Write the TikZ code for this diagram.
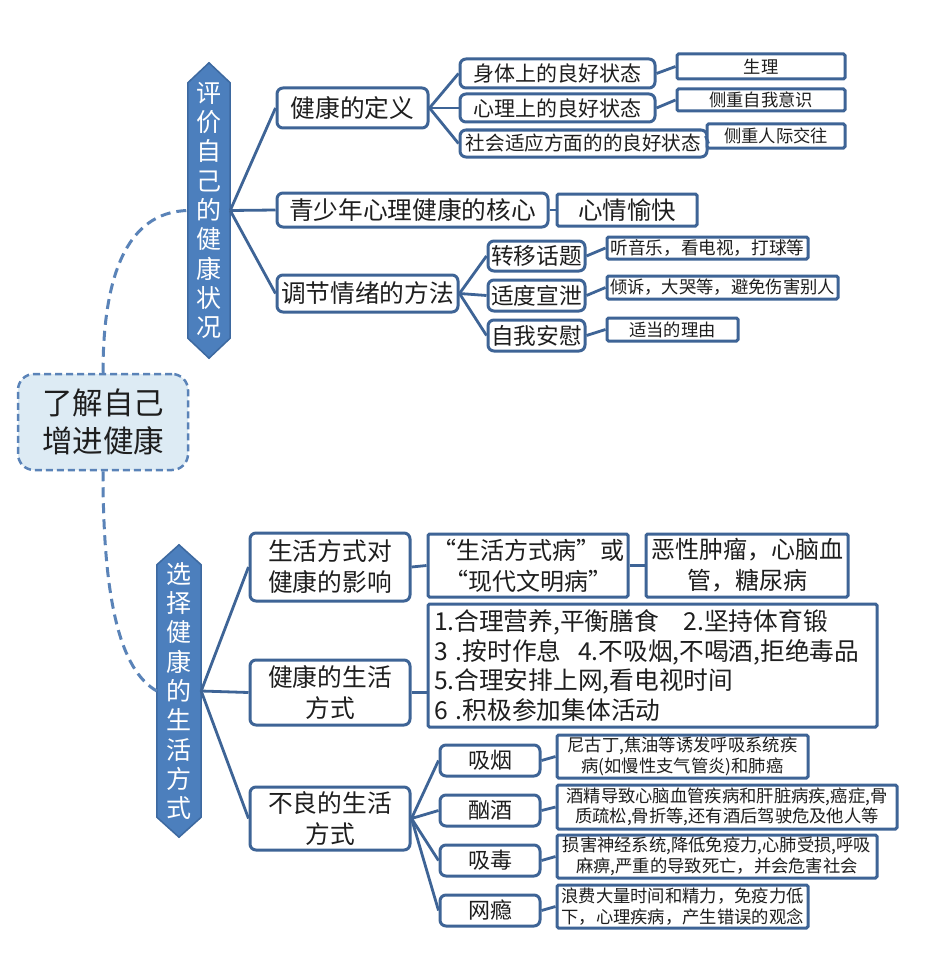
\documentclass[tikz,border=0pt]{standalone}
\usepackage{fontspec}
\setmainfont{Noto Sans CJK SC}
\usetikzlibrary{calc}
\definecolor{ln}{HTML}{3E6496}
\definecolor{hexfill}{HTML}{4C7FBD}
\definecolor{hexline}{HTML}{3D69A0}
\definecolor{rootfill}{HTML}{DDEBF4}
\definecolor{rootline}{HTML}{5A83B8}
\definecolor{txt}{HTML}{1E1E1E}
\newcommand{\myfs}[2]{\fontsize{#1pt}{#2pt}\selectfont}
\begin{document}
\begin{tikzpicture}[x=1pt,y=-1pt,
  base/.style={draw=ln, line width=3pt, fill=white, inner sep=0pt, align=center, text=txt},
  rbox/.style={base, rounded corners=6pt},
  sbox/.style={base, rounded corners=1.5pt},
  sz/.style 2 args={minimum width=#1pt, minimum height=#2pt},
  con/.style={draw=ln, line width=2.8pt},
  dcon/.style={draw=rootline, line width=3pt, dash pattern=on 10pt off 6pt},
  hexbox/.style={inner sep=0pt, minimum width=42pt, minimum height=295pt},
  hextext/.style={inner sep=0pt, align=center, text=white, font=\myfs{25}{29.3}},
]
\fill[white] (0,0) rectangle (945,971);
\useasboundingbox (0,0) rectangle (945,971);

% ---------- root ----------
\node[draw=rootline, fill=rootfill, line width=2.5pt, dash pattern=on 7pt off 4pt,
      rounded corners=16pt, minimum width=170pt, minimum height=96pt, inner sep=0pt,
      align=center, text=txt, font=\myfs{30.5}{38}] (r) at (103,422) {了解自己\\增进健康};

% ---------- hexagon 1 ----------
\node[hexbox] (h1) at (209,210.5) {};
\filldraw[fill=hexfill, draw=hexline, line width=1.5pt]
  (h1.north) -- ($(h1.north east)+(0,20)$) -- ($(h1.south east)+(0,-20)$) -- (h1.south)
  -- ($(h1.south west)+(0,-20)$) -- ($(h1.north west)+(0,20)$) -- cycle;
\node[hextext] (h1t) at (h1.center) {评\\价\\自\\己\\的\\健\\康\\状\\况};

% ---------- hexagon 2 ----------
\node[hexbox, minimum width=44pt, minimum height=292pt] (h2) at (179,691) {};
\filldraw[fill=hexfill, draw=hexline, line width=1.5pt]
  (h2.north) -- ($(h2.north east)+(0,20)$) -- ($(h2.south east)+(0,-20)$) -- (h2.south)
  -- ($(h2.south west)+(0,-20)$) -- ($(h2.north west)+(0,20)$) -- cycle;
\node[hextext] (h2t) at (h2.center) {选\\择\\健\\康\\的\\生\\活\\方\\式};

% dashed links
\draw[dcon] (r.north) .. controls (103,280) and (125,212) .. (h1.west);
\draw[dcon] (r.south) .. controls (103,600) and (120,670) .. (h2.west);

% ---------- upper branch ----------
\node[rbox, sz={151}{40}, font=\myfs{24.7}{31}] (n1) at (352.5,108) {健康的定义};
\node[rbox, sz={195}{29}, font=\myfs{21}{25}] (a1) at (557.5,73.5) {身体上的良好状态};
\node[rbox, sz={195}{28}, font=\myfs{21}{25}] (a2) at (557.5,108) {心理上的良好状态};
\node[rbox, sz={247}{27}, font=\myfs{19.6}{24}] (a3) at (583.5,143.5) {社会适应方面的的良好状态};
\node[sbox, sz={168}{25}, font=\myfs{17.3}{21}] (b1) at (761,66.5) {生理};
\node[sbox, sz={168}{22}, font=\myfs{17.3}{21}] (b2) at (761,100) {侧重自我意识};
\node[sbox, sz={138}{24}, font=\myfs{17.3}{21}] (b3) at (776,136) {侧重人际交往};

\node[rbox, sz={271}{34}, font=\myfs{24.7}{31}] (n2) at (412.5,210) {青少年心理健康的核心};
\node[sbox, sz={140}{32}, font=\myfs{24.5}{31}] (c1) at (627,210) {心情愉快};

\node[rbox, sz={181}{37}, font=\myfs{24.7}{31}] (n3) at (367.5,293.5) {调节情绪的方法};
\node[rbox, sz={97}{30}, font=\myfs{22.7}{28}] (d1) at (536.5,256) {转移话题};
\node[rbox, sz={97}{31}, font=\myfs{22.7}{28}] (d2) at (536.5,295.5) {适度宣泄};
\node[rbox, sz={97}{31}, font=\myfs{22.7}{28}] (d3) at (536.5,335.5) {自我安慰};
\node[sbox, sz={201}{22}, font=\myfs{17.6}{21}] (e1) at (707.5,248) {听音乐，看电视，打球等};
\node[sbox, sz={231}{23}, font=\myfs{17.3}{21}] (e2) at (722.5,287.5) {倾诉，大哭等，避免伤害别人};
\node[sbox, sz={131}{23}, font=\myfs{17.3}{21}] (e3) at (672.5,329.5) {适当的理由};

\draw[con] (h1.east) -- (n1.west);
\draw[con] (h1.east) -- (n2.west);
\draw[con] (h1.east) -- (n3.west);
\draw[con] (n1.east) -- (a1.west);
\draw[con] (n1.east) -- (a2.west);
\draw[con] (n1.east) -- (a3.west);
\draw[con] (a1.east) -- (b1.west);
\draw[con] (a2.east) -- (b2.west);
\draw[con] (a3.east) -- (b3.west);
\draw[con] (n2.east) -- (c1.west);
\draw[con] (n3.east) -- (d1.west);
\draw[con] (n3.east) -- (d2.west);
\draw[con] (n3.east) -- (d3.west);
\draw[con] (d1.east) -- (e1.west);
\draw[con] (d2.east) -- (e2.west);
\draw[con] (d3.east) -- (e3.west);

% ---------- lower branch ----------
\node[rbox, sz={160}{68}, font=\myfs{24.7}{31}] (m1) at (330,567) {生活方式对\\健康的影响};
\node[sbox, sz={200}{63}, font=\myfs{24}{31}] (f1) at (528,565.5) {“生活方式病”或\\“现代文明病”};
\node[sbox, sz={202}{63}, font=\myfs{24}{31}] (g1) at (747,565.5) {恶性肿瘤，心脑血\\管，糖尿病};

\node[rbox, sz={160}{65}, font=\myfs{24.7}{31}] (m2) at (330,692.5) {健康的生活\\方式};
\node[sbox, sz={449}{123}, text width=437pt, align=left, font=\myfs{24.7}{29.7}] (f2) at (652.5,665.5)
  {1.合理营养,平衡膳食~~~2.坚持体育锻\\3 .按时作息~~4.不吸烟,不喝酒,拒绝毒品\\5.合理安排上网,看电视时间\\6 .积极参加集体活动};

\node[rbox, sz={160}{63}, font=\myfs{24.7}{31}] (m3) at (330,818.5) {不良的生活\\方式};
\node[rbox, sz={100}{31}, font=\myfs{22}{27}] (p1) at (490,760.5) {吸烟};
\node[rbox, sz={100}{31}, font=\myfs{22}{27}] (p2) at (490,810.5) {酗酒};
\node[rbox, sz={100}{31}, font=\myfs{22}{27}] (p3) at (490,860.5) {吸毒};
\node[rbox, sz={100}{31}, font=\myfs{22}{27}] (p4) at (490,910.5) {网瘾};
\node[sbox, sz={251}{43}, font=\myfs{17.3}{20.5}] (q1) at (682.5,756.5) {尼古丁,焦油等诱发呼吸系统疾\\病(如慢性支气管炎)和肺癌};
\node[sbox, sz={340}{44}, font=\myfs{17.3}{20.5}] (q2) at (727,807) {酒精导致心脑血管疾病和肝脏病疾,癌症,骨\\质疏松,骨折等,还有酒后驾驶危及他人等};
\node[sbox, sz={320}{43}, font=\myfs{17.3}{20.5}] (q3) at (717,856.5) {损害神经系统,降低免疫力,心肺受损,呼吸\\麻痹,严重的导致死亡，并会危害社会};
\node[sbox, sz={251}{43}, font=\myfs{17.3}{20.5}] (q4) at (682.5,906.5) {浪费大量时间和精力，免疫力低\\下，心理疾病，产生错误的观念};

\draw[con] (h2.east) -- (m1.west);
\draw[con] (h2.east) -- (m2.west);
\draw[con] (h2.east) -- (m3.west);
\draw[con] (m1.east) -- (f1.west);
\draw[con] (f1.east) -- (g1.west);
\draw[con] (m2.east) -- (m2.east -| f2.west);
\draw[con] (m3.east) -- (p1.west);
\draw[con] (m3.east) -- (p2.west);
\draw[con] (m3.east) -- (p3.west);
\draw[con] (m3.east) -- (p4.west);
\draw[con] (p1.east) -- (q1.west);
\draw[con] (p2.east) -- (q2.west);
\draw[con] (p3.east) -- (q3.west);
\draw[con] (p4.east) -- (q4.west);
\end{tikzpicture}
\end{document}
